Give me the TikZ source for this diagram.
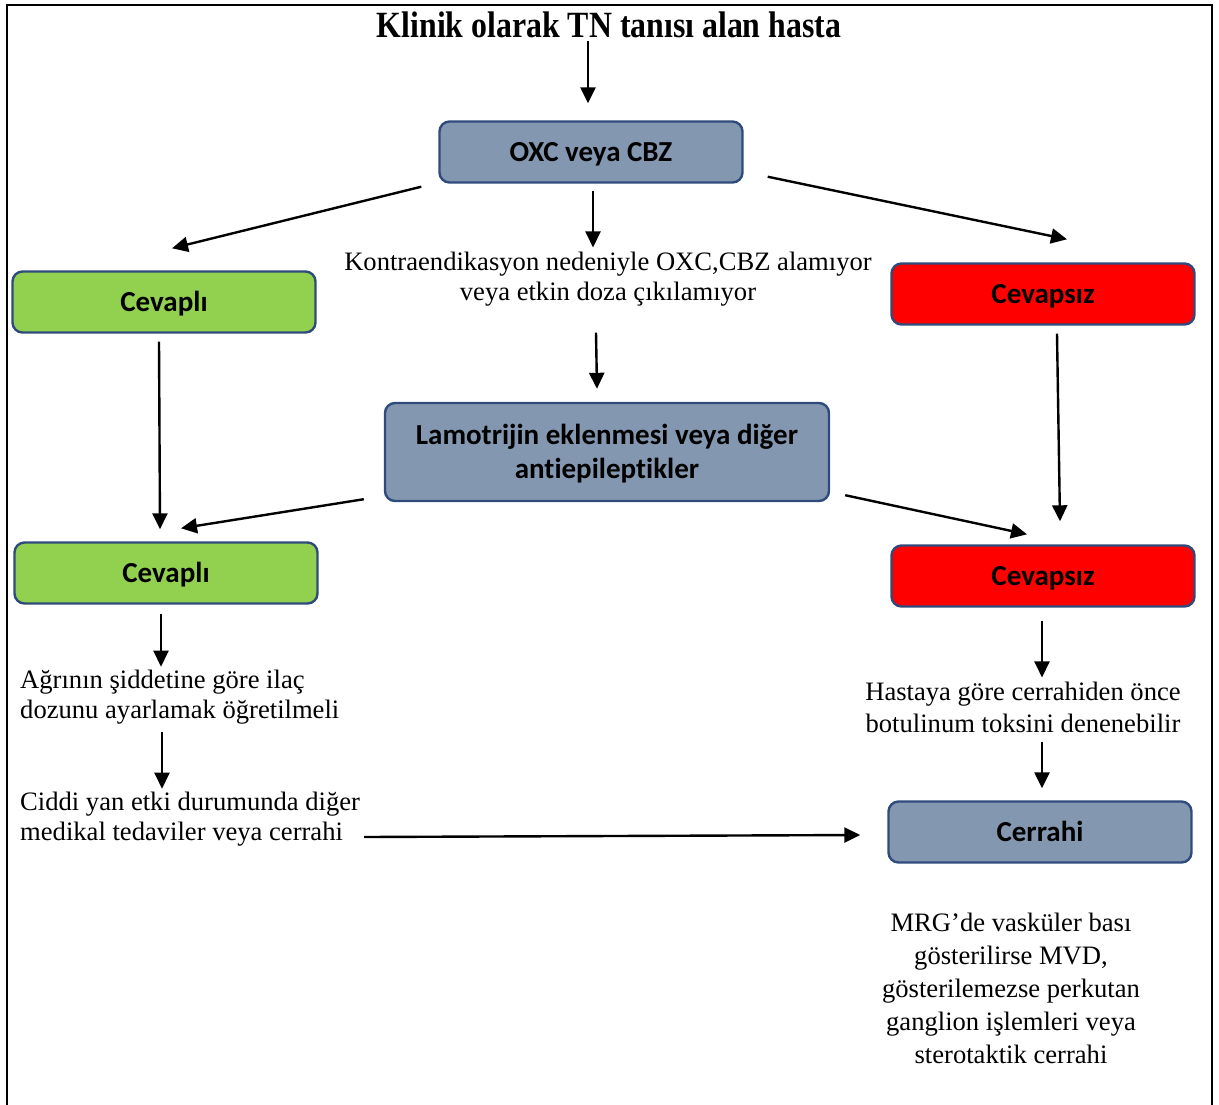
\documentclass[tikz,border=0pt]{standalone}
\usepackage{fontspec}
\usepackage{xcolor}
\usepackage{graphicx}
\usepackage{tikz}
\usetikzlibrary{arrows.meta}
\setmainfont{Liberation Serif}
\newfontfamily\boxfont[Ligatures=NoCommon]{Carlito}
\definecolor{boxblue}{HTML}{8497B0}
\definecolor{boxedge}{HTML}{2F4B7C}
\definecolor{okgreen}{HTML}{92D050}
\definecolor{nored}{HTML}{FF0000}

\begin{document}
\begin{tikzpicture}[
    x=1pt, y=-1pt,
    stepbox/.style={draw=boxedge, line width=2.4pt, rounded corners=10pt, align=center, minimum width=303pt, minimum height=61pt, inner sep=0pt, text height=22pt, text depth=4pt, font=\boxfont\bfseries\fontsize{29}{34}\selectfont},
    infobox/.style={stepbox, fill=boxblue},
    yesbox/.style={stepbox, fill=okgreen},
    nobox/.style={stepbox, fill=nored},
    note/.style={inner sep=0pt, font=\fontsize{26.6}{30}\selectfont},
    arr/.style={-{Triangle[length=16pt,width=15pt]}, line width=2.4pt}
]
\useasboundingbox (0,0) rectangle (1219,1104);
\draw[line width=2.4pt] (7,1110) -- (7,5) -- (1212,5) -- (1212,1110);

\node[inner sep=0pt, font=\bfseries\fontsize{37}{40}\selectfont] (title) at (609,25) {\scalebox{0.86}[1]{Klinik olarak TN tanısı alan hasta}};
\node[infobox] (oxc) at (591,152) {OXC veya CBZ};
\node[yesbox] (cev1) at (164,302) {Cevaplı};
\node[nobox] (cvz1) at (1043,294) {Cevapsız};
\node[note, align=center, font=\fontsize{26.6}{30.5}\selectfont] (kontra) at (608,279) {Kontraendikasyon nedeniyle OXC,CBZ alamıyor\\veya etkin doza çıkılamıyor};
\node[infobox, minimum width=444pt, minimum height=98pt, text height=, text depth=] (lamo) at (607,452) {\rule{0pt}{24pt}Lamotrijin eklenmesi veya diğer\\antiepileptikler};
\node[yesbox] (cev2) at (166,573) {Cevaplı};
\node[nobox] (cvz2) at (1043,576) {Cevapsız};
\node[note, align=left, anchor=west] (agri) at (20,697) {Ağrının şiddetine göre ilaç\\dozunu ayarlamak öğretilmeli};
\node[note, align=left, anchor=west] (cidd) at (20,819) {Ciddi yan etki durumunda diğer\\medikal tedaviler veya cerrahi};
\node[note, align=center, font=\fontsize{26.6}{32}\selectfont] (hast) at (1023,707) {Hastaya göre cerrahiden önce\\botulinum toksini denenebilir};
\node[infobox] (cerr) at (1040,832) {Cerrahi};
\node[note, align=center, font=\fontsize{26.6}{33}\selectfont] (mrg) at (1011,988) {MRG’de vasküler bası\\gösterilirse MVD,\\gösterilemezse perkutan\\ganglion işlemleri veya\\sterotaktik cerrahi};

\draw[arr] ([xshift=-21pt,yshift=-3pt]title.south) -- ([xshift=-3pt,yshift=17pt]oxc.north);
\draw[arr] ([xshift=-17pt,yshift=-3pt]oxc.south west) -- ([xshift=8pt,yshift=22pt]cev1.north);
\draw[arr] ([xshift=2pt,yshift=-7pt]oxc.south) -- ([xshift=-15pt,yshift=4pt]kontra.north);
\draw[arr] ([xshift=24pt,yshift=7pt]oxc.south east) -- ([xshift=24pt,yshift=23pt]cvz1.north);
\draw[arr] ([xshift=-12pt,yshift=-26pt]kontra.south) -- ([xshift=-10pt,yshift=13pt]lamo.north);
\draw[arr] ([xshift=-5pt,yshift=-8pt]cev1.south) -- ([xshift=-6pt,yshift=12pt]cev2.north);
\draw[arr] ([xshift=14pt,yshift=-8pt]cvz1.south) -- ([xshift=17pt,yshift=23pt]cvz2.north);
\draw[arr] ([xshift=-20pt,yshift=3pt]lamo.south west) -- ([xshift=15pt,yshift=13pt]cev2.north);
\draw[arr] ([xshift=15pt,yshift=7pt]lamo.south east) -- ([xshift=-16pt,yshift=10pt]cvz2.north);
\draw[arr] ([xshift=-5pt,yshift=-9pt]cev2.south) -- ([xshift=141pt,yshift=3pt]agri.north west);
\draw[arr] ([xshift=142pt,yshift=-8pt]agri.south west) -- ([xshift=142pt,yshift=3pt]cidd.north west);
\draw[arr] ([xshift=4pt,yshift=-18pt]cidd.east) -- ([xshift=-27pt,yshift=-3pt]cerr.west);
\draw[arr] ([xshift=-1pt,yshift=-13pt]cvz2.south) -- ([xshift=19pt,yshift=4pt]hast.north);
\draw[arr] ([xshift=19pt,yshift=-9pt]hast.south) -- ([xshift=2pt,yshift=12pt]cerr.north);
\end{tikzpicture}
\end{document}
